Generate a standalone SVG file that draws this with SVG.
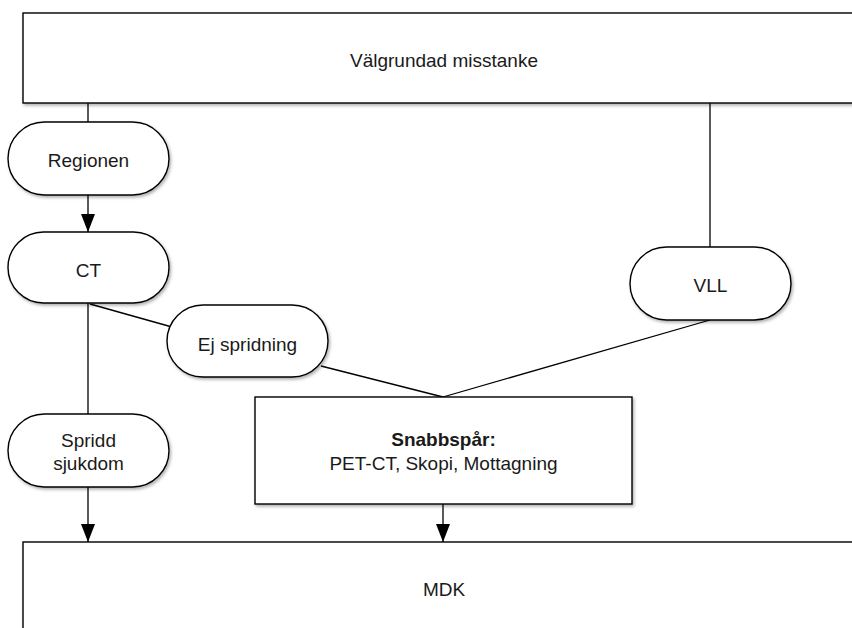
<svg xmlns="http://www.w3.org/2000/svg" width="852" height="628" viewBox="0 0 852 628">
  <defs>
    <filter id="sh" x="-10%" y="-10%" width="130%" height="140%">
      <feDropShadow dx="1.5" dy="2" stdDeviation="1.5" flood-color="#000" flood-opacity="0.3"/>
    </filter>
    <marker id="arr" markerWidth="18" markerHeight="14" refX="18" refY="7" viewBox="0 0 18 14" orient="auto" markerUnits="userSpaceOnUse">
      <path d="M0,0 L18,7 L0,14 Z" fill="#000"/>
    </marker>
  </defs>
  <style>
    .box { fill: #fff; stroke: #000; stroke-width: 1.4; filter: url(#sh); }
    .line { fill: none; stroke: #000; stroke-width: 1.3; }
    .t { font-family: "Liberation Sans", Arial, sans-serif; font-size: 19px; fill: #1a1a1a; text-anchor: middle; }
    .b { font-weight: bold; }
  </style>
  <rect width="852" height="628" fill="#fff"/>
  <g id="connectors">
    <line class="line" x1="88" y1="103" x2="88" y2="122"/>
    <line class="line" x1="88" y1="195" x2="88" y2="232" marker-end="url(#arr)"/>
    <line class="line" x1="88" y1="303" x2="88" y2="414"/>
    <line class="line" x1="88" y1="487" x2="88" y2="542" marker-end="url(#arr)"/>
    <line class="line" x1="90" y1="304" x2="172" y2="327"/>
    <line class="line" x1="321" y1="366" x2="443" y2="397"/>
    <line class="line" x1="710" y1="103" x2="710" y2="247"/>
    <line class="line" x1="710" y1="320" x2="443" y2="397"/>
    <line class="line" x1="443" y1="504" x2="443" y2="542" marker-end="url(#arr)"/>
  </g>
  <g id="valgrundad">
    <rect class="box" x="23" y="13" width="850" height="90"/>
    <text class="t" x="444" y="67">Välgrundad misstanke</text>
  </g>
  <g id="regionen">
    <rect class="box" x="8" y="122" width="161" height="73" rx="36.5"/>
    <text class="t" x="88.5" y="167">Regionen</text>
  </g>
  <g id="ct">
    <rect class="box" x="8" y="232" width="161" height="71" rx="35.5"/>
    <text class="t" x="88.5" y="277">CT</text>
  </g>
  <g id="ej-spridning">
    <rect class="box" x="167" y="305" width="161" height="72" rx="36"/>
    <text class="t" x="247.5" y="351">Ej spridning</text>
  </g>
  <g id="vll">
    <rect class="box" x="630" y="247" width="161" height="73" rx="36.5"/>
    <text class="t" x="710.5" y="292">VLL</text>
  </g>
  <g id="spridd">
    <rect class="box" x="8" y="414" width="161" height="73" rx="36.5"/>
    <text class="t" x="88.5" y="447">Spridd</text>
    <text class="t" x="88.5" y="470">sjukdom</text>
  </g>
  <g id="snabbspar">
    <rect class="box" x="255" y="397" width="377" height="107"/>
    <text class="t b" x="443.5" y="446">Snabbspår:</text>
    <text class="t" x="443.5" y="470">PET-CT, Skopi, Mottagning</text>
  </g>
  <g id="mdk">
    <rect class="box" x="23" y="542" width="850" height="120"/>
    <text class="t" x="444" y="596">MDK</text>
  </g>
</svg>
